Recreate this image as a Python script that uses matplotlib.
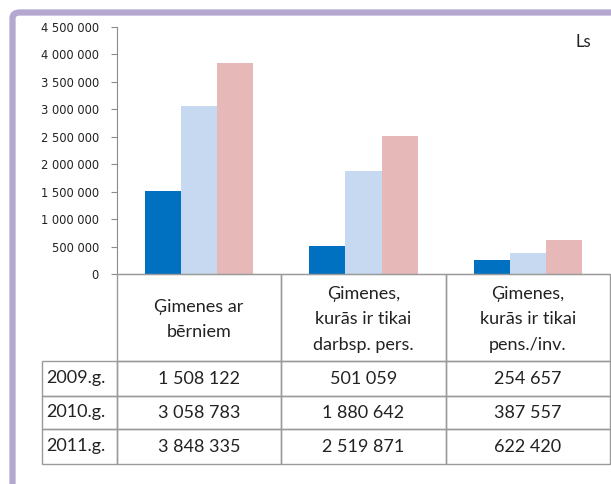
import matplotlib.pyplot as plt
from matplotlib.patches import FancyBboxPatch, Rectangle
from matplotlib.ticker import FuncFormatter

# data
groups = ["Ģimenes ar\nbērniem",
          "Ģimenes,\nkurās ir tikai\ndarbsp. pers.",
          "Ģimenes,\nkurās ir tikai\npens./inv."]
years = ["2009.g.", "2010.g.", "2011.g."]
v2009 = [1508122, 501059, 254657]
v2010 = [3058783, 1880642, 387557]
v2011 = [3848335, 2519871, 622420]
colors = ["#0070C0", "#C6D9F1", "#E6B9B8"]

W, H = 611, 484
fig = plt.figure(figsize=(W / 100, H / 100), dpi=100)

# purple frame (clipped at right and bottom)
frame = FancyBboxPatch((12.5 / W, -0.2), 1.2, 1.2 - 12.5 / H,
                       boxstyle="round,pad=0,rounding_size=0.012",
                       transform=fig.transFigure, facecolor="none",
                       edgecolor="#B4A7D0", linewidth=4.5, zorder=0)
fig.patches.append(frame)

# bar chart
ax = fig.add_axes([117 / W, (H - 274) / H, (610 - 117) / W, (274 - 27) / H])
bw = 36 / 164
series = [v2009, v2010, v2011]
for i, vals in enumerate(series):
    xs = [g + 0.5 + (i - 1) * bw for g in range(len(vals))]
    ax.bar(xs, vals, width=bw, color=colors[i], linewidth=0)

ax.set_xlim(0, 3)
ax.set_ylim(0, 4500000)
ax.set_yticks(range(0, 4500001, 500000))
ax.yaxis.set_major_formatter(FuncFormatter(lambda v, p: f"{int(v):,}".replace(",", " ")))
ax.set_xticks([])
for s in ["top", "right"]:
    ax.spines[s].set_visible(False)
for s in ["left", "bottom"]:
    ax.spines[s].set_color("#8c8c8c")
    ax.spines[s].set_linewidth(0.8)
ax.tick_params(axis="y", length=4, color="#8c8c8c", labelsize=8.3,
               labelcolor="#222222", pad=9)
fig.text(583 / W, 1 - 42 / H, "Ls", fontsize=12,
         family="Lato", color="#222222", ha="center", va="center")

# data table, drawn by hand (pixel units, y downwards)
tax = fig.add_axes([42 / W, (H - 464) / H, (610 - 42) / W, (464 - 274) / H])
tax.set_xlim(42, 610)
tax.set_ylim(464, 274)
tax.axis("off")
col_x = [42, 117, 281.3, 445.7, 610]
row_y = [274, 361, 396, 429, 464]
edge = "#9a9a9a"
txt = dict(fontsize=13, family="Lato", color="#222222", va="center")

for c, label in enumerate(groups):
    x0, x1 = col_x[c + 1], col_x[c + 2]
    tax.add_patch(Rectangle((x0, row_y[0]), x1 - x0, row_y[1] - row_y[0],
                            fill=False, edgecolor=edge, lw=1, clip_on=False))
    tax.text((x0 + x1) / 2, (row_y[0] + row_y[1]) / 2 + 2, label, ha="center",
             linespacing=1.75, **txt)

for r, (year, vals) in enumerate(zip(years, series)):
    y0, y1 = row_y[r + 1], row_y[r + 2]
    tax.add_patch(Rectangle((col_x[0], y0), col_x[1] - col_x[0], y1 - y0,
                            fill=False, edgecolor=edge, lw=1, clip_on=False))
    tax.text(col_x[0] + 4, (y0 + y1) / 2, year, ha="left", **txt)
    for c, v in enumerate(vals):
        x0, x1 = col_x[c + 1], col_x[c + 2]
        tax.add_patch(Rectangle((x0, y0), x1 - x0, y1 - y0,
                                fill=False, edgecolor=edge, lw=1, clip_on=False))
        tax.text((x0 + x1) / 2, (y0 + y1) / 2, f"{v:,}".replace(",", " "),
                 ha="center", **txt)

fig.savefig("out.png", dpi=100)
